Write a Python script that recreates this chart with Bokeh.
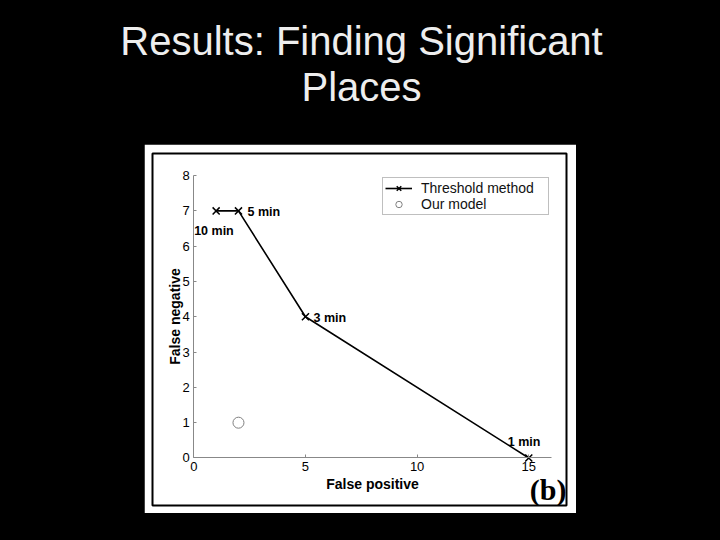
from bokeh.plotting import figure
from bokeh.layouts import column, row
from bokeh.models import Range1d, FixedTicker, Spacer, Label, Legend, LegendItem, ColumnDataSource
from bokeh.core.properties import value
from bokeh.embed import file_html
from bokeh.resources import INLINE

# ---- data ----
title_lines = ["Results: Finding Significant", "Places"]
thr_fp = [1, 2, 5, 15]
thr_fn = [7, 7, 4, 0]
thr_labels = ["10 min", "5 min", "3 min", "1 min"]
model_fp = [2]
model_fn = [1]
x_ticks = [0, 5, 10, 15]
y_ticks = [0, 1, 2, 3, 4, 5, 6, 7, 8]
x_label = "False positive"
y_label = "False negative"
series_names = ["Threshold method", "Our model"]
panel_tag = "(b)"

FONT = "Liberation Sans"
SERIF = "Liberation Serif"

# ---- title figure ----
tf = figure(width=704, height=136, x_range=Range1d(0, 704), y_range=Range1d(136, 0),
            output_backend="svg", toolbar_location=None, min_border=0,
            background_fill_color="black", border_fill_color="black", outline_line_color=None)
tf.axis.visible = False
tf.grid.visible = False
tf.title.visible = False
tf.text(x=[353, 353], y=[32, 78], text=title_lines, text_font=value(FONT),
        text_font_size="40px", text_color="#eeeeee", text_align="center",
        text_baseline="alphabetic")

# ---- plot figure ----
p = figure(width=432, height=369, x_range=Range1d(-1.85, 16.69), y_range=Range1d(-1.346, 8.626),
           output_backend="svg", toolbar_location=None,
           min_border_left=8, min_border_right=10, min_border_top=9, min_border_bottom=8,
           background_fill_color="white", border_fill_color="white",
           outline_line_color="black", outline_line_width=2)
p.grid.visible = False
p.title.visible = False

for ax, ticks, lab, bnd in ((p.xaxis[0], x_ticks, x_label, (0, 16)),
                            (p.yaxis[0], y_ticks, y_label, (0, 8))):
    ax.fixed_location = 0
    ax.bounds = bnd
    ax.ticker = FixedTicker(ticks=ticks)
    ax.axis_label = lab
    ax.axis_label_text_font = FONT
    ax.axis_label_text_font_style = "bold"
    ax.axis_label_text_font_size = "14px"
    ax.axis_label_text_color = "black"
    ax.major_label_text_font = FONT
    ax.major_label_text_font_size = "13px"
    ax.major_label_text_color = "black"
    ax.axis_line_color = "#888888"
    ax.major_tick_line_color = "#888888"
    ax.major_tick_in = 3
    ax.major_tick_out = 0
    ax.minor_tick_line_color = None
    ax.major_label_standoff = 4
p.xaxis[0].axis_label_standoff = 2
p.yaxis[0].axis_label_standoff = -4

r_line = p.line(thr_fp, thr_fn, line_color="black", line_width=1.6)
r_x = p.scatter(thr_fp, thr_fn, marker="x", size=10, line_color="black", line_width=1.5)
r_o = p.scatter(model_fp, model_fn, marker="circle", size=11, fill_color=None,
                line_color="#808080", line_width=1)

label_dx = [-22, 9, 8, -21]
label_dy = [20, 1, 1, -16]
src = ColumnDataSource(dict(x=thr_fp, y=thr_fn, t=thr_labels, dx=label_dx, dy=label_dy))
p.text(x="x", y="y", text="t", x_offset="dx", y_offset="dy", source=src,
       text_font=value(FONT), text_font_style="bold", text_font_size="12.5px",
       text_color="black", text_align="left", text_baseline="middle")

legend = Legend(items=[LegendItem(label=series_names[0], renderers=[r_line, r_x]),
                       LegendItem(label=series_names[1], renderers=[r_o])],
                location=(230, 290), padding=2, spacing=0, margin=0,
                glyph_width=27, glyph_height=16, label_standoff=9, label_height=16,
                label_width=125, label_text_font=FONT, label_text_font_size="14px",
                label_text_color="#111111", border_line_color="#808080",
                border_line_width=1, background_fill_color="white", background_fill_alpha=1)
p.add_layout(legend)

p.add_layout(Label(x=414, y=16, x_units="screen", y_units="screen", text=panel_tag,
                   text_font=SERIF, text_font_style="bold", text_font_size="30px",
                   text_color="black", text_align="right", text_baseline="alphabetic"))

layout = column(tf, row(Spacer(width=136, height=369), p))

html = file_html(layout, INLINE, title="Results: Finding Significant Places")
html = html.replace("</head>",
                    "<style>html{background-color:#000000;}body{background-color:#000000;margin:8px;}</style></head>", 1)
open("out.html", "w").write(html)
